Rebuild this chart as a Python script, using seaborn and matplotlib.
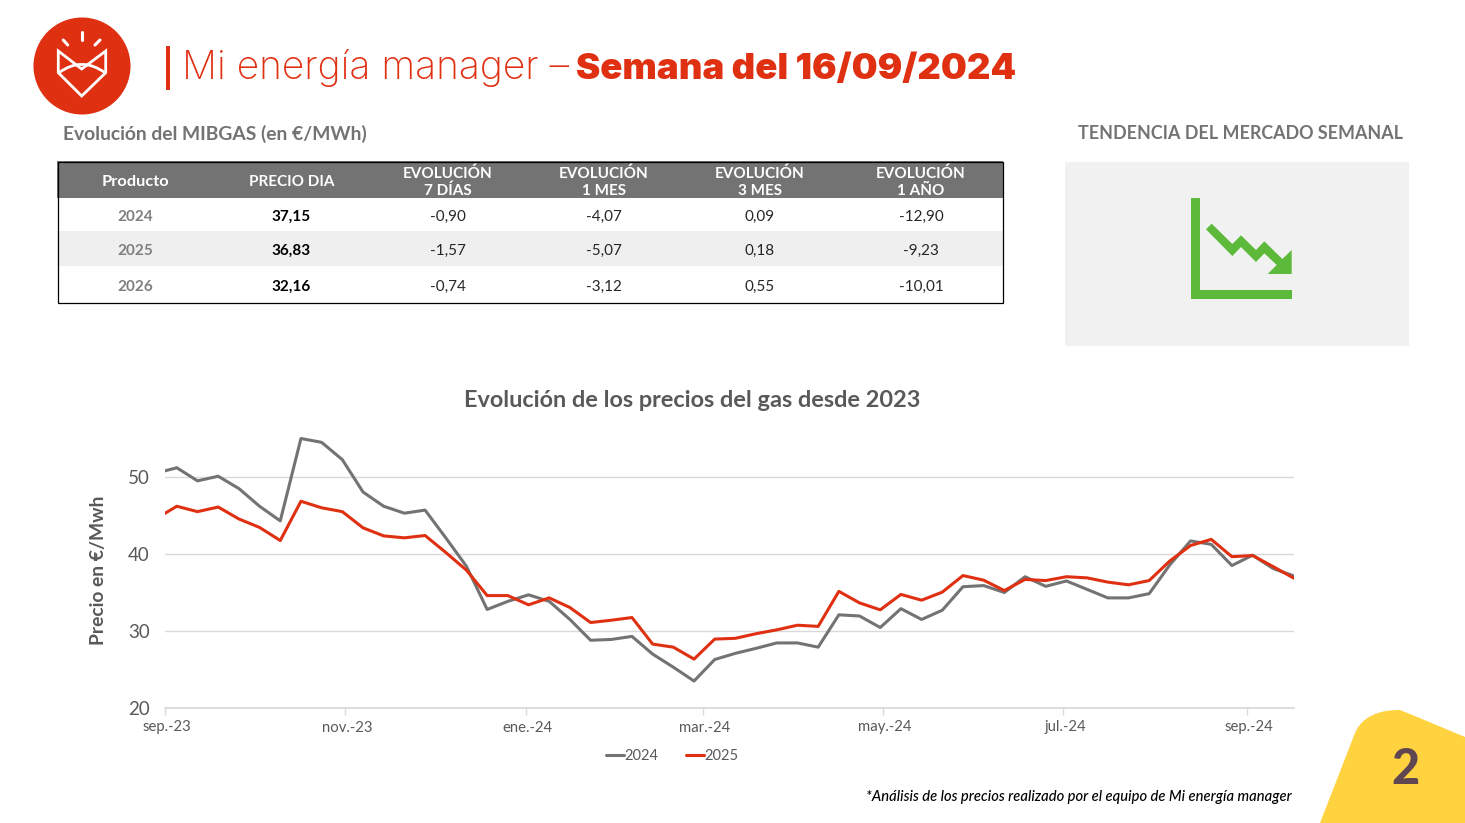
import matplotlib
matplotlib.use('Agg')
import matplotlib.pyplot as plt
import matplotlib.patches as mpatches
import matplotlib.path as mpath
from matplotlib.transforms import ScaledTranslation
import numpy as np
import pandas as pd
import seaborn as sns

# datos del grafico (semanal)
weeks = pd.date_range('2023-08-29', '2024-09-17', freq='7D')
precio_2024 = [50.5, 51.2, 49.5, 50.1, 48.5, 46.2, 44.3, 55.0, 54.5, 52.25, 48.05, 46.2, 45.3, 45.7,
               42.1, 38.4, 32.8, 33.85, 34.7, 33.85, 31.5, 28.8, 28.9, 29.3, 27.0, 25.3, 23.5, 26.3,
               27.1, 27.75, 28.45, 28.45, 27.9, 32.1, 31.95, 30.45, 32.9, 31.5, 32.7, 35.75, 35.9,
               35.0, 37.05, 35.8, 36.5, 35.4, 34.3, 34.3, 34.85, 38.6, 41.7, 41.25, 38.5, 39.85,
               38.1, 37.15]
precio_2025 = [44.6, 46.2, 45.5, 46.1, 44.55, 43.45, 41.75, 46.85, 46.0, 45.5, 43.4, 42.35, 42.1, 42.4,
               40.2, 37.9, 34.6, 34.6, 33.4, 34.3, 33.05, 31.1, 31.4, 31.75, 28.3, 27.9, 26.35, 28.95,
               29.05, 29.65, 30.15, 30.75, 30.6, 35.15, 33.65, 32.75, 34.75, 34.0, 35.05, 37.2, 36.6,
               35.25, 36.7, 36.55, 37.05, 36.9, 36.35, 36.0, 36.55, 39.1, 41.1, 41.9, 39.65, 39.8,
               38.35, 36.85]
tick_dates = ['2023-09-01', '2023-11-01', '2024-01-01', '2024-03-01', '2024-05-01', '2024-07-01', '2024-09-01']
tick_labels = ['sep.-23', 'nov.-23', 'ene.-24', 'mar.-24', 'may.-24', 'jul.-24', 'sep.-24']
y_ticks = [20, 30, 40, 50]

# datos de la tabla
table_header = ['Producto', 'PRECIO DIA', 'EVOLUCIÓN\n7 DÍAS', 'EVOLUCIÓN\n1 MES', 'EVOLUCIÓN\n3 MES', 'EVOLUCIÓN\n1 AÑO']
productos = ['2024', '2025', '2026']
precio_dia = ['37,15', '36,83', '32,16']
evol_7d = ['-0,90', '-1,57', '-0,74']
evol_1m = ['-4,07', '-5,07', '-3,12']
evol_3m = ['0,09', '0,18', '0,55']
evol_1a = ['-12,90', '-9,23', '-10,01']

RED = '#E03012'
GREY = '#737373'
TXT = '#595959'
FONT = ['Lato', 'DejaVu Sans']
TITLE_FONT = ['Inter', 'DejaVu Sans']

sns.set_theme(style='white')
plt.rcParams['font.family'] = FONT

fig = plt.figure(figsize=(14.65, 8.23), dpi=100)

# capa de fondo en pixeles
bg = fig.add_axes([0, 0, 1, 1])
bg.set_xlim(0, 1465)
bg.set_ylim(823, 0)
bg.axis('off')

# logo
bg.add_patch(mpatches.Circle((82, 66), 48.5, color=RED, lw=0))
bg.add_patch(mpatches.Polygon([(58.3, 51), (58.3, 72.7), (81.7, 96), (105.7, 72.7), (105.7, 51), (81.7, 69)],
                              closed=True, fill=False, ec='white', lw=2))
arc = mpath.Path([(59, 72.7), (81.7, 56), (105, 72.7)], [mpath.Path.MOVETO, mpath.Path.CURVE3, mpath.Path.CURVE3])
bg.add_patch(mpatches.PathPatch(arc, fill=False, ec='white', lw=2))
for a, b in [((81.7, 32.3), (81.7, 40)), ((63.3, 40), (67.7, 45)), ((100, 40), (95, 45))]:
    bg.plot([a[0], b[0]], [a[1], b[1]], color='white', lw=2.2, solid_capstyle='round')

# titulo
bg.add_patch(mpatches.Rectangle((166, 46), 4, 44, color=RED, lw=0))
bg.text(182, 79, 'Mi energía manager –', color=RED, fontsize=28, fontweight='light', family=TITLE_FONT, va='baseline')
bg.text(576, 79, 'Semana del 16/09/2024', color=RED, fontsize=26.3, fontweight='black', family=TITLE_FONT, va='baseline')

bg.text(63, 133.5, 'Evolución del MIBGAS (en €/MWh)', color=GREY, fontsize=13.9, fontweight='bold', va='center')
bg.text(1241, 133.5, 'TENDENCIA DEL MERCADO SEMANAL', color=GREY, fontsize=12.85, fontweight='bold', va='center', ha='center')

# tabla
col_x = [135, 291.5, 448, 604, 760, 921]
row_y = [217, 251, 287]
header_size = [11.8, 11, 11, 11, 11, 11]
bg.add_patch(mpatches.Rectangle((57, 161), 946, 37, color=GREY, lw=0))
bg.add_patch(mpatches.Rectangle((57, 231), 946, 35, color='#EFEFEF', lw=0))
bg.add_patch(mpatches.Rectangle((57.5, 161.5), 945.5, 141, fill=False, ec='black', lw=0.9))
for x, h, s in zip(col_x, table_header, header_size):
    bg.text(x, 182.5 if '\n' in h else 181.5, h, color='white', fontsize=s, fontweight='bold',
            ha='center', va='center', linespacing=1.25)
for i, y in enumerate(row_y):
    bg.text(col_x[0], y, productos[i], color='#7F7F7F', fontsize=11, fontweight='bold', ha='center', va='center')
    bg.text(col_x[1], y, precio_dia[i], color='black', fontsize=11, fontweight='bold', ha='center', va='center')
    for x, col in zip(col_x[2:], [evol_7d, evol_1m, evol_3m, evol_1a]):
        bg.text(x, y, col[i], color='#262626', fontsize=11, ha='center', va='center')

# icono tendencia
bg.add_patch(mpatches.Rectangle((1065, 162), 344, 184, color='#F1F1F1', lw=0))
GREEN = '#5CB93A'
bg.add_patch(mpatches.Rectangle((1191, 198.3), 9, 100.7, color=GREEN, lw=0))
bg.add_patch(mpatches.Rectangle((1191, 290), 100.7, 9, color=GREEN, lw=0))
arrow = np.array([(468, 328), (485, 311), (547, 372), (573, 346), (618, 390), (643, 364), (697, 417), (725, 390),
                  (725, 462), (653, 462), (680, 435), (643, 400), (618, 426), (573, 381), (547, 408)]) / 3 + (1050, 120)
bg.add_patch(mpatches.Polygon(arrow, closed=True, color=GREEN, lw=0))

# esquina amarilla
P = mpath.Path
corner = P([(1320, 823), (1355, 733), (1365, 710), (1392, 710), (1400, 710), (1408, 713), (1465, 737), (1465, 823), (1320, 823)],
           [P.MOVETO, P.LINETO, P.CURVE4, P.CURVE4, P.CURVE3, P.CURVE3, P.LINETO, P.LINETO, P.CLOSEPOLY])
bg.add_patch(mpatches.PathPatch(corner, color='#FFD33F', lw=0))
bg.text(1405.5, 769, '2', color='#5F4650', fontsize=35, fontweight='black', ha='center', va='center')

bg.text(1292, 797, '*Análisis de los precios realizado por el equipo de Mi energía manager', color='black',
        fontsize=10.6, style='italic', fontweight='medium', ha='right', va='center')
bg.text(692.5, 400, 'Evolución de los precios del gas desde 2023', color=TXT, fontsize=16.9, fontweight='bold',
        ha='center', va='center')

# grafico de lineas
df = pd.DataFrame({'fecha': list(weeks) * 2,
                   'precio': precio_2024 + precio_2025,
                   'producto': ['2024'] * len(weeks) + ['2025'] * len(weeks)})

ax = fig.add_axes([165 / 1465, 1 - 708 / 823, (1294 - 165) / 1465, (708 - 430.8) / 823])
ax.patch.set_alpha(0)
sns.lineplot(data=df, x='fecha', y='precio', hue='producto', palette=[GREY, RED], linewidth=2.2, ax=ax)
ax.set_xlim(pd.Timestamp('2023-09-01'), pd.Timestamp('2024-09-17'))
ax.set_ylim(20, 56)
ax.set_yticks(y_ticks)
ax.set_xticks(pd.to_datetime(tick_dates))
ax.set_xticklabels(tick_labels)
ax.yaxis.grid(True, color='#D9D9D9', lw=1)
ax.set_axisbelow(True)
sns.despine(ax=ax, left=True, top=True, right=True)
ax.spines['bottom'].set_color('#D9D9D9')
ax.tick_params(axis='x', length=5, width=1, color='#D9D9D9', labelsize=10.7, labelcolor=TXT, pad=4, bottom=True)
ax.tick_params(axis='y', length=0, labelsize=13.5, labelcolor=TXT, pad=11)
for lbl in ax.get_xticklabels():
    lbl.set_transform(lbl.get_transform() + ScaledTranslation(2 / 100, 0, fig.dpi_scale_trans))
ax.set_xlabel('')
ax.set_ylabel('Precio en €/Mwh', color=TXT, fontsize=13.9, fontweight='bold')
ax.yaxis.set_label_coords((107 - 165) / 1129, (708 - 570) / 277.2)

leg = ax.legend(title=None, loc='center', bbox_to_anchor=(672 / 1465, 1 - 756 / 823), bbox_transform=fig.transFigure,
                ncol=2, frameon=False, fontsize=10.5, handlelength=1.24, handletextpad=0, columnspacing=1.9)
for t in leg.get_texts():
    t.set_color(TXT)

fig.savefig('out.png', dpi=100)
